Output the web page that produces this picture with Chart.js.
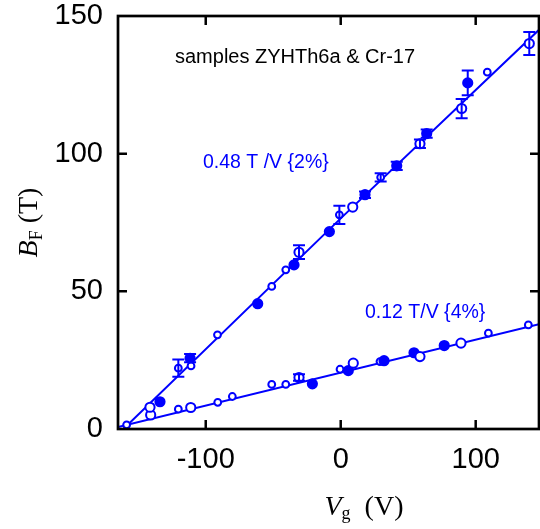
<!DOCTYPE html>
<html>
<head>
<meta charset="utf-8">
<script src="https://cdn.jsdelivr.net/npm/chart.js@4/dist/chart.umd.min.js"></script>
<style>
  html, body { margin: 0; padding: 0; background: #fff; }
  canvas { display: block; }
</style>
</head>
<body>
<canvas id="chart" width="540" height="529"></canvas>
<script>
// Upper branch (0.48 T/V): gate voltage, field, error, marker kind
// kind: 'o' small open, 'O' large open, 'f' filled
const upperV = [-158.6, -141.3, -133.9, -120.3, -111.6, -110.9, -91.3, -61.5, -51.1, -40.7, -34.6, -30.9,
                -8.4, -1, 8.9, 18, 29.6, 41.5, 58.7, 63.7, 89.6, 94.1, 108.6, 139.7];
const upperB = [1.5, 7.9, 9.9, 22.1, 25.7, 22.9, 34.2, 45.5, 51.8, 57.8, 59.6, 64.2,
                71.7, 77.8, 80.6, 85.1, 91.4, 95.6, 103.6, 107.3, 116.4, 125.7, 129.6, 140];
const upperErr = [0, 0, 0, 3.1, 1.5, 0, 0, 0, 0, 0, 0, 2.5,
                  0, 3.3, 0, 1.2, 1.5, 1.5, 1.5, 1.5, 3.5, 4.5, 0, 4.2];
const upperKind = ['o', 'O', 'f', 'o', 'f', 'o', 'o', 'f', 'o', 'o', 'f', 'O',
                   'f', 'o', 'O', 'f', 'o', 'f', 'O', 'f', 'O', 'f', 'o', 'O'];

// Lower branch (0.12 T/V)
const lowerV = [-140.8, -120.3, -111.1, -91.1, -80.3, -51.1, -40.7, -30.9, -21, -0.5,
                5.6, 9.3, 29.1, 32.1, 54.3, 58.7, 76.7, 89.1, 109.4, 139];
const lowerB = [5.1, 7.2, 7.8, 9.7, 11.8, 16.2, 16.2, 18.7, 16.4, 21.7,
                21.2, 23.9, 24.5, 24.8, 27.7, 26.3, 30.3, 31.2, 34.8, 37.8];
const lowerErr = [0, 0, 0, 0, 0, 0, 0, 1.2, 0, 0,
                  0, 0, 0, 0, 0, 0, 0, 0, 0, 0];
const lowerKind = ['O', 'o', 'O', 'o', 'o', 'o', 'o', 'O', 'f', 'o',
                   'f', 'O', 'o', 'f', 'f', 'O', 'f', 'O', 'o', 'o'];

// Fit lines
const upperFitV = [-161, 0, 146.9];
const upperFitB = [0, 76.5, 145];
const lowerFitV = [-165, 146.9];
const lowerFitB = [0.7, 38.1];

const xTicks = [-100, 0, 100];
const yTicks = [0, 50, 100, 150];

const BLUE = '#0000ff';

function toPoints(xs, ys) {
    return xs.map((x, i) => ({x: x, y: ys[i]}));
}

function pointDataset(xs, ys, kinds, errs) {
    return {
        type: 'scatter',
        data: toPoints(xs, ys),
        errs: errs,
        showLine: false,
        borderColor: BLUE,
        borderWidth: 2,
        pointRadius: ctx => kinds[ctx.dataIndex] === 'o' ? 3.4 : 4.6,
        pointBackgroundColor: ctx => kinds[ctx.dataIndex] === 'f' ? BLUE : '#ffffff',
        pointBorderColor: BLUE,
        pointBorderWidth: 2,
        order: 1
    };
}

function fitDataset(xs, ys) {
    return {
        type: 'line',
        data: toPoints(xs, ys),
        borderColor: BLUE,
        borderWidth: 2,
        pointRadius: 0,
        fill: false,
        tension: 0,
        order: 2
    };
}

// Error bars, frame with inward ticks, axis titles and annotations
const decorPlugin = {
    id: 'decor',
    afterDatasetsDraw(chart) {
        const {ctx, scales} = chart;
        const xs = scales.x, ys = scales.y;

        ctx.save();
        ctx.strokeStyle = BLUE;
        ctx.lineWidth = 2;
        chart.data.datasets.forEach(ds => {
            if (!ds.errs) return;
            ds.data.forEach((p, i) => {
                const e = ds.errs[i];
                if (!e) return;
                const px = xs.getPixelForValue(p.x);
                const top = ys.getPixelForValue(p.y + e);
                const bot = ys.getPixelForValue(p.y - e);
                ctx.beginPath();
                ctx.moveTo(px, top); ctx.lineTo(px, bot);
                ctx.moveTo(px - 6, top); ctx.lineTo(px + 6, top);
                ctx.moveTo(px - 6, bot); ctx.lineTo(px + 6, bot);
                ctx.stroke();
            });
        });
        ctx.restore();
    },
    afterDraw(chart) {
        const {ctx, chartArea, scales} = chart;
        const {left, right, top, bottom} = chartArea;
        const xs = scales.x, ys = scales.y;

        ctx.save();
        ctx.strokeStyle = '#000';
        ctx.lineWidth = 2.7;
        ctx.strokeRect(left, top, right - left, bottom - top);

        const tl = 9;
        ctx.lineWidth = 2.5;
        ctx.beginPath();
        xTicks.forEach(v => {
            const px = xs.getPixelForValue(v);
            ctx.moveTo(px, bottom); ctx.lineTo(px, bottom - tl);
            ctx.moveTo(px, top); ctx.lineTo(px, top + tl);
        });
        yTicks.slice(1, -1).forEach(v => {
            const py = ys.getPixelForValue(v);
            ctx.moveTo(left, py); ctx.lineTo(left + tl, py);
            ctx.moveTo(right, py); ctx.lineTo(right - tl, py);
        });
        ctx.stroke();

        // annotations
        ctx.textBaseline = 'middle';
        ctx.textAlign = 'left';
        ctx.font = '20px "Liberation Sans", Arial, sans-serif';
        ctx.fillStyle = '#000';
        ctx.fillText('samples ZYHTh6a & Cr-17', left + 57, top + 41);
        ctx.font = '19.5px "Liberation Sans", Arial, sans-serif';
        ctx.fillStyle = BLUE;
        ctx.fillText('0.48 T /V {2%}', left + 85, top + 147);
        ctx.fillText('0.12 T/V {4%}', left + 247, top + 297);

        // y title: B_F (T)
        ctx.fillStyle = '#000';
        ctx.translate(30, (top + bottom) / 2);
        ctx.rotate(-Math.PI / 2);
        const serif = '"Liberation Serif", "Times New Roman", serif';
        drawParts(ctx, [
            {t: 'B', f: 'italic 28px ' + serif, dy: 0},
            {t: 'F', f: '18px ' + serif, dy: 7},
            {t: ' (T)', f: '28px ' + serif, dy: 0}
        ]);
        ctx.setTransform(1, 0, 0, 1, 0, 0);

        // x title: V_g (V)
        ctx.translate(364, 508);
        drawParts(ctx, [
            {t: 'V', f: 'italic 28px ' + serif, dy: 0},
            {t: 'g', f: '18px ' + serif, dy: 6},
            {t: '  (V)', f: '28px ' + serif, dy: 0}
        ]);
        ctx.restore();
    }
};

function drawParts(ctx, parts) {
    let w = 0;
    parts.forEach(p => { ctx.font = p.f; w += ctx.measureText(p.t).width; });
    let x = -w / 2;
    ctx.textAlign = 'left';
    ctx.textBaseline = 'middle';
    parts.forEach(p => {
        ctx.font = p.f;
        ctx.fillText(p.t, x, p.dy);
        x += ctx.measureText(p.t).width;
    });
}

const tickFont = {family: '"Liberation Sans", Arial, sans-serif', size: 29};

new Chart(document.getElementById('chart'), {
    data: {
        datasets: [
            fitDataset(upperFitV, upperFitB),
            fitDataset(lowerFitV, lowerFitB),
            pointDataset(upperV, upperB, upperKind, upperErr),
            pointDataset(lowerV, lowerB, lowerKind, lowerErr)
        ]
    },
    options: {
        responsive: false,
        animation: false,
        layout: {autoPadding: false, padding: {top: 16, right: 1, left: 0, bottom: 0}},
        plugins: {legend: {display: false}, tooltip: {enabled: false}},
        scales: {
            x: {
                type: 'linear',
                min: -165,
                max: 146.9,
                afterBuildTicks: s => { s.ticks = xTicks.map(v => ({value: v})); },
                afterFit: s => { s.height = 100; s.paddingLeft = 0; s.paddingRight = 0; },
                grid: {display: false, drawTicks: false},
                border: {display: false},
                ticks: {color: '#000', font: tickFont, padding: 14, maxRotation: 0}
            },
            y: {
                type: 'linear',
                min: 0,
                max: 150,
                afterBuildTicks: s => { s.ticks = yTicks.map(v => ({value: v})); },
                afterFit: s => { s.width = 118; s.paddingTop = 0; s.paddingBottom = 0; },
                grid: {display: false, drawTicks: false},
                border: {display: false},
                ticks: {color: '#000', font: tickFont, padding: 15}
            }
        }
    },
    plugins: [decorPlugin]
});
</script>
</body>
</html>
